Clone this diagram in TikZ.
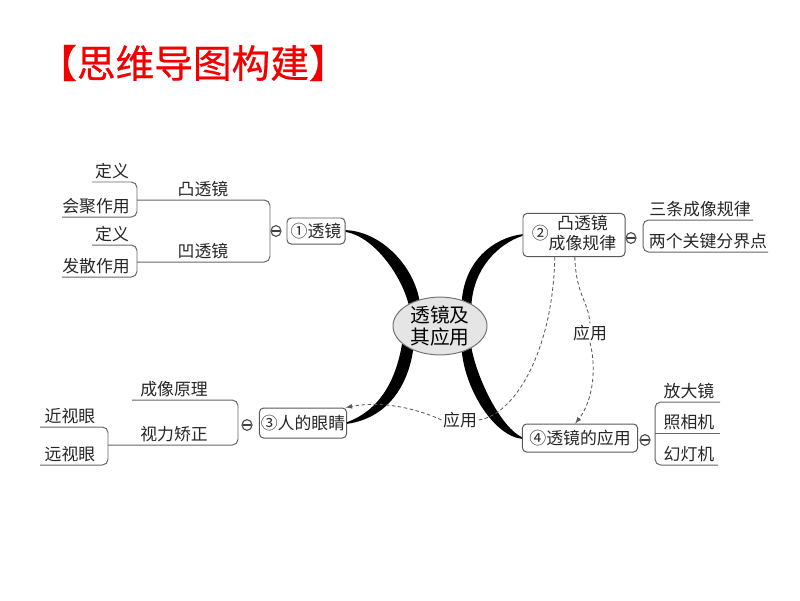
\documentclass[tikz,border=0pt]{standalone}
\usepackage{fontspec}
\setmainfont{Noto Sans CJK SC}
\newfontfamily\titlefont[FakeBold=0.6]{Noto Sans CJK SC}
\usetikzlibrary{shapes.geometric,backgrounds}

\begin{document}
\begin{tikzpicture}[x=0.025cm, y=-0.025cm, font=\fontsize{12}{14}\selectfont,
	topic/.style={draw=black!65, line width=0.7pt, rounded corners=3pt, inner sep=1pt, minimum height=0.65cm, text=black!85},
	leaf/.style={anchor=south, inner sep=2pt, text=black!85},
	branch/.style={draw=black!60, line width=0.7pt, rounded corners=4pt},
	fold/.style={ellipse, draw=black!70, line width=0.8pt, minimum width=0.25cm, minimum height=0.27cm, inner sep=0pt,
		path picture={\draw[black!75, line width=0.8pt] ([xshift=-0.09cm]path picture bounding box.center) -- ([xshift=0.09cm]path picture bounding box.center);}},
	hint/.style={draw=black!65, line width=0.6pt, dash pattern=on 2.5pt off 1.8pt}]
			%%%%% START %%%%%
			\useasboundingbox (0,0) rectangle (800,600);
			
			\node[anchor=west, text=red!95!black, font=\titlefont\fontsize{27.5}{32}\selectfont, inner sep=0pt] (title) at (38,63) {【思维导图构建】};
			
			\node[ellipse, draw=black!55, fill=black!10, line width=0.7pt, minimum width=2.35cm, minimum height=1.32cm, inner sep=0pt, align=center, font=\fontsize{14}{16}\selectfont] (core) at (440,326) {透镜及\\其应用};
			
			\node[topic, minimum width=1.45cm] (lens) at (316,231) {①透镜};
			\node[topic, minimum width=2.17cm, minimum height=0.75cm] (eye) at (303,423) {③人的眼睛};
			\node[topic, minimum width=2.55cm, minimum height=1.08cm] (law) at (574,235) {②\begin{tabular}{@{}c@{}}凸透镜\\成像规律\end{tabular}};
			\node[topic, minimum width=2.88cm, minimum height=0.7cm] (apply) at (580,438) {④透镜的应用};
			
			\node[fold] (f1) at (276,231) {};
			\node[fold] (f3) at (247,425) {};
			\node[fold] (f2) at (631,238) {};
			\node[fold] (f4) at (645,440) {};
			
			% lens branches
			\draw[branch] (137,200) -- (270,200) -- (270,262) -- (137,262);
			\draw[branch] (92,182) -- (137,182) -- (137,217) -- (62,217);
			\draw[branch] (92,245) -- (137,245) -- (137,277) -- (62,277);
			\node[leaf] (def1) at (112,182) {定义};
			\node[leaf] (conv) at (96,217) {会聚作用};
			\node[leaf] (convex) at (203,200) {凸透镜};
			\node[leaf] (def2) at (112,245) {定义};
			\node[leaf] (div) at (96,277) {发散作用};
			\node[leaf] (concave) at (203,262) {凹透镜};
			
			% eye branches
			\draw[branch] (132,400) -- (238,400) -- (238,445) -- (108,445);
			\draw[branch] (40,427) -- (108,427) -- (108,465) -- (40,465);
			\node[leaf] (image) at (174,400) {成像原理};
			\node[leaf] (fix) at (174,445) {视力矫正};
			\node[leaf] (near) at (70,427) {近视眼};
			\node[leaf] (far) at (70,465) {远视眼};
			
			% law branches
			\draw[branch] (753,220) -- (643,220) -- (643,252) -- (768,252);
			\node[leaf] (rays) at (700,220) {三条成像规律};
			\node[leaf] (points) at (708,252) {两个关键分界点};
			
			% apply branches
			\draw[branch] (720,402) -- (655,402) -- (655,465) -- (718,465);
			\draw[branch] (655,433) -- (720,433);
			\node[leaf] (magnifier) at (689,402) {放大镜};
			\node[leaf] (camera) at (689,433) {照相机};
			\node[leaf] (projector) at (689,465) {幻灯机};
			
			\node[text=black!85, inner sep=1pt] (use1) at (460,420) {应用};
			\node[text=black!85, inner sep=1pt] (use2) at (590,333) {应用};
			
			\begin{scope}[on background layer]
			\fill ([yshift=0.6pt]lens.east) .. controls (378,231) and (412,262) .. (core.128) -- (core.145) .. controls (400,272) and (372,236) .. ([yshift=-0.6pt]lens.east);
			\fill ([yshift=-0.6pt]eye.east) .. controls (388,418) and (408,385) .. (core.222) -- (core.205) .. controls (396,380) and (380,410) .. ([yshift=0.6pt]eye.east);
			\fill ([yshift=0.6pt]law.west) .. controls (492,238) and (465,262) .. (core.50) -- (core.35) .. controls (474,268) and (498,244) .. ([yshift=-0.6pt]law.west);
			\fill (core.310) .. controls (466,392) and (495,436) .. ([yshift=-0.6pt]apply.west) -- ([yshift=0.6pt]apply.west) .. controls (502,428) and (478,382) .. (core.325) -- cycle;
			\end{scope}
			
			\draw[hint] ([xshift=-0.48cm]law.south) .. controls (553,350) and (515,415) .. (use1.east);
			\draw[hint, -latex] (use1.west) .. controls (420,410) and (385,400) .. ([xshift=-1pt]eye.north east);
			\draw[hint] ([xshift=0.02cm]law.south) .. controls (576,295) and (588,300) .. (use2.north);
			\draw[hint, -latex] (use2.south) .. controls (598,375) and (590,405) .. ([xshift=-0.12cm]apply.north);
			%%%%% END %%%%%
\end{tikzpicture}
\end{document}
